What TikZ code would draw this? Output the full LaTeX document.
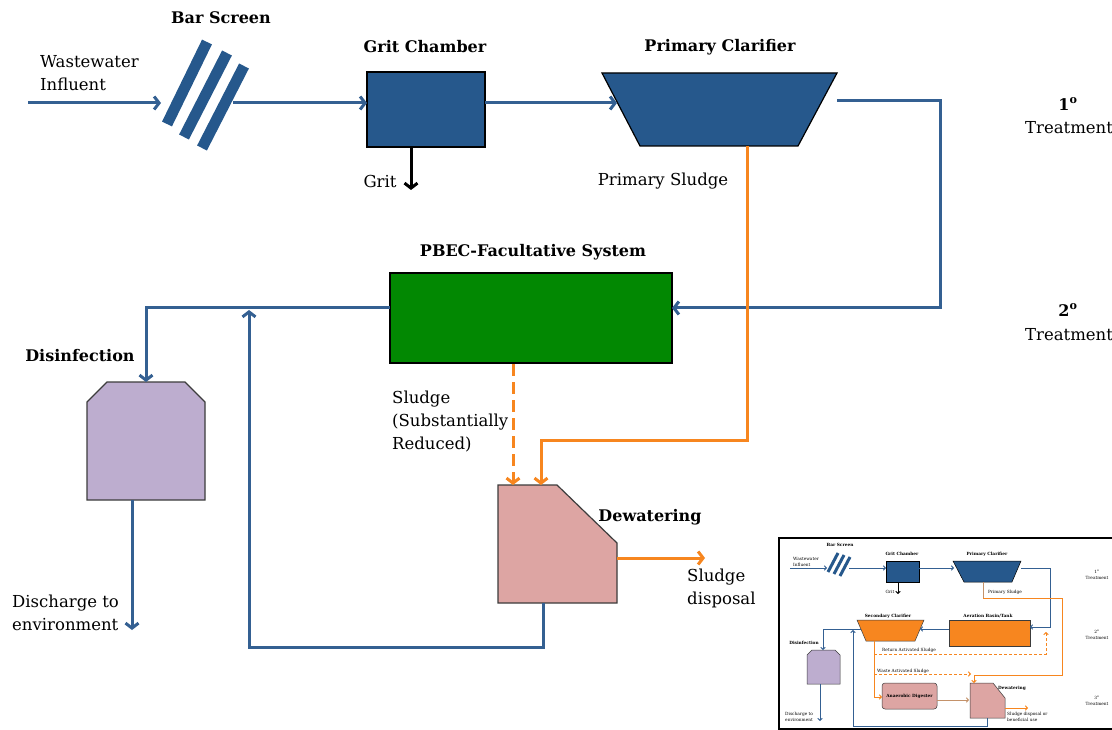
\documentclass[tikz,border=0pt]{standalone}
\usepackage{fontspec}
\setmainfont{DejaVu Serif}
\usetikzlibrary{arrows.meta}
\definecolor{flowblue}{RGB}{52,96,146}
\definecolor{boxblue}{RGB}{38,88,140}
\definecolor{pgreen}{RGB}{2,136,2}
\definecolor{sorange}{RGB}{247,134,31}
\definecolor{dpurple}{RGB}{189,173,207}
\definecolor{dpink}{RGB}{221,165,163}
\definecolor{stan}{RGB}{196,146,106}
\definecolor{edgegray}{RGB}{60,60,60}
\tikzset{
  bigtip/.style={-{Straight Barb[length=5pt,width=13pt]}},
  flow/.style={draw=flowblue,line width=3pt,bigtip},
  oflow/.style={draw=sorange,line width=3pt,bigtip},
  kflow/.style={draw=black,line width=3pt,bigtip},
  ttl/.style={inner sep=0pt,font=\fontsize{16}{23}\selectfont\bfseries},
  txt/.style={inner sep=0pt,font=\fontsize{16.5}{23}\selectfont},
  unit/.style={draw=edgegray,line width=1.2pt},
  smtip/.style={-{Straight Barb[length=2pt,width=4.5pt]}},
  sflow/.style={draw=flowblue,line width=1pt,smtip},
  soflow/.style={draw=sorange,line width=1pt,smtip},
  stflow/.style={draw=stan,line width=1pt,smtip},
  sttl/.style={inner sep=0pt,font=\fontsize{4.3}{6}\selectfont\bfseries},
  stxt/.style={inner sep=0pt,font=\fontsize{4.3}{6}\selectfont},
  sunit/.style={draw=edgegray,line width=0.5pt},
}
\begin{document}
\begin{tikzpicture}[x=1pt,y=-1pt]
\useasboundingbox (0,0) rectangle (1112,730);
\clip (0,0) rectangle (1112,730);
\fill[white] (0,0) rectangle (1112,730);

% ---------------- main diagram ----------------
% labels
\node[ttl] (lbs) at (221,18) {Bar Screen};
\node[ttl] (lgc) at (425,47) {Grit Chamber};
\node[ttl] (lpc) at (720,47) {Primary Clarifier};
\node[ttl] (lpb) at (533,252) {PBEC-Facultative System};
\node[ttl] (ldi) at (80,356) {Disinfection};
\node[ttl] (ldw) at (650,517) {Dewatering};
\node[txt,anchor=west,align=left] (lww) at (40,73) {Wastewater\\Influent};
\node[txt] (lgr) at (380,181) {Grit};
\node[txt] (lps) at (663,181) {Primary Sludge};
\node[txt,anchor=west,align=left] (lsl) at (392,422) {Sludge\\(Substantially\\Reduced)};
\node[txt,anchor=west,align=left] (lde) at (12,613) {Discharge to\\environment};
\node[txt,anchor=west,align=left] (lsd) at (687,588) {Sludge\\disposal};
\node[ttl] (l1) at (1068,104) {1\textsuperscript{o}};
\node[txt,anchor=west] (l1t) at (1025,128) {Treatment};
\node[ttl] (l2) at (1068,310) {2\textsuperscript{o}};
\node[txt,anchor=west] (l2t) at (1025,335) {Treatment};

% bar screen
\foreach \a/\b/\c/\d in {207/42/167/124, 227/53/184/137, 244/66/202/148}
  \draw[boxblue,line width=11pt] (\a,\b) -- (\c,\d);
\coordinate (inflow) at (28,103);
\coordinate (bsin) at (161,103);
\coordinate (bsout) at (233,103);

% grit chamber
\node[draw=black,line width=1.2pt,fill=boxblue,minimum width=118pt,minimum height=75pt,inner sep=0pt] (grit) at (426,109.5) {};
\coordinate (gritin) at (367,103);
\coordinate (gritout) at (485,103);
\coordinate (gritbot) at (411,147);
\coordinate (gritend) at (411,190);

% primary clarifier
\draw[black,line width=1.2pt,fill=boxblue] (602,73) -- (837,73) -- (798,146) -- (640,146) -- cycle;
\coordinate (pcin) at (617,103);
\coordinate (pcout) at (837,101);
\coordinate (pcbot) at (747,146);
\coordinate (pcr1) at (940,101);
\coordinate (pcr2) at (940,308);

% PBEC
\node[draw=black,line width=1.2pt,fill=pgreen,minimum width=282pt,minimum height=90pt,inner sep=0pt] (pbec) at (531,318) {};
\coordinate (pbin) at (672,308);
\coordinate (pbout) at (390,308);
\coordinate (pbbot) at (513,364);
\coordinate (dis1) at (146,308);

% disinfection
\draw[unit,fill=dpurple] (107,382) -- (185,382) -- (205,402) -- (205,500) -- (87,500) -- (87,402) -- cycle;
\coordinate (distop) at (146,382);
\coordinate (disbot) at (132,500);
\coordinate (disend) at (132,630);

% dewatering
\draw[unit,fill=dpink] (498,485) -- (557,485) -- (617,543) -- (617,603) -- (498,603) -- cycle;
\coordinate (dwtop1) at (513,485);
\coordinate (dwtop2) at (541,485);
\coordinate (dwright) at (617,558);
\coordinate (dwend) at (705,558);
\coordinate (dwbot) at (543,603);
\coordinate (ret1) at (543,647);
\coordinate (ret2) at (249,647);
\coordinate (ret3) at (249,310);
\coordinate (ps1) at (747,440);
\coordinate (ps2) at (541,440);

% connectors
\draw[flow] (inflow) -- (bsin);
\draw[flow] (bsout) -- (gritin);
\draw[flow] (gritout) -- (pcin);
\draw[kflow] (gritbot) -- (gritend);
\draw[flow] (pcout) -- (pcr1) -- (pcr2) -- (pbin);
\draw[flow] (pbout) -- (dis1) -- (distop);
\draw[flow] (disbot) -- (disend);
\draw[flow] (dwbot) -- (ret1) -- (ret2) -- (ret3);
\draw[oflow] (pcbot) -- (ps1) -- (ps2) -- (dwtop2);
\draw[oflow,dash pattern=on 12pt off 6pt] (pbbot) -- (dwtop1);
\draw[oflow] (dwright) -- (dwend);

% ---------------- inset ----------------
\draw[black,line width=2.5pt,fill=white] (779,538) rectangle (1118,729);

\node[sttl] (ibs) at (840,545) {Bar Screen};
\node[sttl] (igc) at (902,554) {Grit Chamber};
\node[sttl] (ipc) at (987,554) {Primary Clarifier};
\node[sttl] (iab) at (988,616) {Aeration Basin/Tank};
\node[sttl] (isc) at (888,616) {Secondary Clarifier};
\node[sttl] (idi) at (804,643) {Disinfection};
\node[sttl] (idw) at (1012,688) {Dewatering};
\node[stxt,anchor=west,align=left] (iww) at (793,561.5) {Wastewater\\Influent};
\node[stxt] (igr) at (890,592) {Grit};
\node[stxt] (ips) at (1005,592) {Primary Sludge};
\node[stxt,anchor=west] (iras) at (882,650) {Return Activated Sludge};
\node[stxt,anchor=west] (iwas) at (877,671) {Waste Activated Sludge};
\node[stxt,anchor=west,align=left] (ide) at (785,716.5) {Discharge to\\environment};
\node[stxt,anchor=west,align=left] (isd) at (1007,717) {Sludge disposal or\\beneficial use};
\node[stxt,align=center] (it1) at (1097,575) {1\textsuperscript{o}\\Treatment};
\node[stxt,align=center] (it2) at (1097,635) {2\textsuperscript{o}\\Treatment};
\node[stxt,align=center] (it3) at (1097,701) {3\textsuperscript{o}\\Treatment};

\foreach \a/\b/\c/\d in {838/553/828/572, 844/555/834/574, 850/557/840/576}
  \draw[boxblue,line width=3pt] (\a,\b) -- (\c,\d);
\node[draw=black,line width=0.5pt,fill=boxblue,minimum width=33pt,minimum height=21pt,inner sep=0pt] (igrit) at (902.5,571.5) {};
\draw[black,line width=0.5pt,fill=boxblue] (953,561) -- (1021,561) -- (1012,582) -- (964,582) -- cycle;
\node[sunit,fill=sorange,minimum width=81pt,minimum height=26pt,inner sep=0pt] (iaer) at (989.5,633) {};
\draw[sunit,fill=sorange] (857,620) -- (924,620) -- (915,641) -- (866,641) -- cycle;
\draw[sunit,fill=dpurple] (812,650) -- (835,650) -- (840,655) -- (840,684) -- (807,684) -- (807,655) -- cycle;
\node[sunit,fill=dpink,rounded corners=3pt,minimum width=55pt,minimum height=26pt,inner sep=0pt] (idig) at (909.5,696) {};
\node[sttl] (idigl) at (909.5,696) {Anaerobic Digester};
\draw[sunit,fill=dpink] (970,683) -- (993,683) -- (1005,698) -- (1005,718) -- (970,718) -- cycle;

\coordinate (a1) at (790,568); \coordinate (a2) at (827,568);
\coordinate (a3) at (849,568); \coordinate (a4) at (886,568);
\coordinate (a5) at (919,568); \coordinate (a6) at (954,568);
\coordinate (g1) at (898,582); \coordinate (g2) at (898,594);
\coordinate (p1) at (1021,568); \coordinate (p2) at (1050,568); \coordinate (p3) at (1050,627); \coordinate (p4) at (1030,627);
\coordinate (s1) at (983,582); \coordinate (s2) at (983,598); \coordinate (s3) at (1062,598); \coordinate (s4) at (1062,675); \coordinate (s5) at (974,675); \coordinate (s6) at (974,683);
\coordinate (b1) at (949,629); \coordinate (b2) at (920,629);
\coordinate (c1) at (861,629); \coordinate (c2) at (823,629); \coordinate (c3) at (823,650);
\coordinate (d1) at (820,684); \coordinate (d2) at (820,721);
\coordinate (r1) at (987,718); \coordinate (r2) at (987,726); \coordinate (r3) at (853,726); \coordinate (r4) at (853,630);
\coordinate (o1) at (874,641); \coordinate (o2) at (874,697); \coordinate (o3) at (882,697);
\coordinate (o4) at (874,654); \coordinate (o5) at (1046,654); \coordinate (o6) at (1046,632);
\coordinate (o7) at (874,674); \coordinate (o8) at (971,674);
\coordinate (t1) at (937,700); \coordinate (t2) at (969,700);
\coordinate (w1) at (1005,708); \coordinate (w2) at (1028,708);

\draw[sflow] (a1) -- (a2);
\draw[sflow] (a3) -- (a4);
\draw[sflow] (a5) -- (a6);
\draw[draw=black,line width=1pt,smtip] (g1) -- (g2);
\draw[sflow] (p1) -- (p2) -- (p3) -- (p4);
\draw[stan,line width=1pt] (s1) -- (s2);
\draw[soflow] (s2) -- (s3) -- (s4) -- (s5) -- (s6);
\draw[sflow] (b1) -- (b2);
\draw[sflow] (c1) -- (c2) -- (c3);
\draw[sflow] (d1) -- (d2);
\draw[sflow] (r1) -- (r2) -- (r3) -- (r4);
\draw[soflow] (o1) -- (o2) -- (o3);
\draw[soflow,dash pattern=on 3pt off 2pt] (o4) -- (o5) -- (o6);
\draw[soflow,dash pattern=on 3pt off 2pt] (o7) -- (o8);
\draw[stflow] (t1) -- (t2);
\draw[soflow] (w1) -- (w2);
\end{tikzpicture}
\end{document}
